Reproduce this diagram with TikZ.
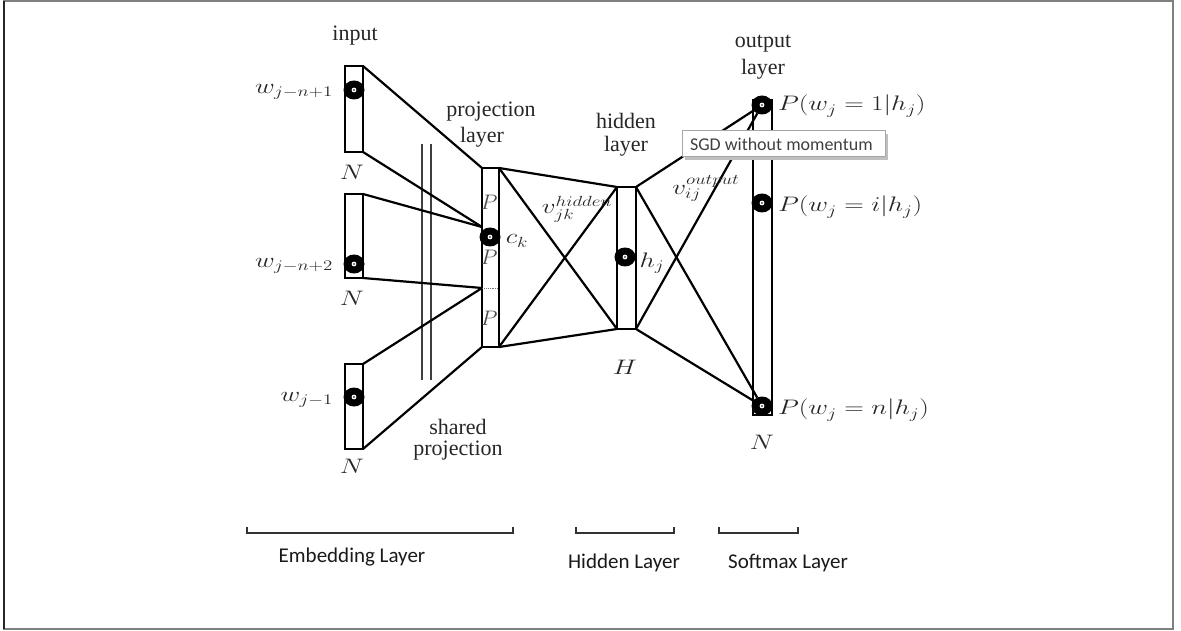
\documentclass[tikz,border=0pt]{standalone}
\usepackage{fix-cm}
\usepackage{fontspec}
\setmainfont{Liberation Serif}
\newfontfamily\calfont{Carlito}
\usetikzlibrary{shapes.geometric}
\newcommand{\mx}[1]{\scalebox{1.29}[1]{$#1$}}
\begin{document}
\begin{tikzpicture}[x=1pt,y=-1pt,
  every node/.style={inner sep=0pt, outer sep=0pt},
  lbl/.style={font=\fontsize{22}{24}\selectfont, text=black!85},
  mlbl/.style={font=\fontsize{21}{23}\selectfont, text=black!85},
  box/.style={draw, line width=2.3pt, rectangle, fill=white},
  conn/.style={line width=2.2pt, line join=round},
  dotn/.style={ellipse, fill=black, minimum width=21pt, minimum height=19pt,
    path picture={\fill[white] (path picture bounding box.center) circle[radius=2.4pt];
                  \fill[black] (path picture bounding box.center) circle[radius=0.8pt];}},
  brk/.style={line width=1.5pt, draw=black!80},
  btm/.style={font=\calfont\fontsize{21}{24}\selectfont, text=black!90},
  tipbox/.style={draw=black!35, fill=white, line width=1pt, minimum width=203pt, minimum height=26pt}
]
\useasboundingbox (0,0) rectangle (1181,631);
% outer frame
\draw[line width=1.5pt, draw=black!50] (4,1) rectangle (1173,629);
\draw[line width=2pt, draw=black!85] (4,1) -- (4,629);

% shared projection double lines
\draw[line width=1.2pt, draw=black!75] (422,144) -- (422,380);
\draw[line width=1.2pt, draw=black!75] (431,144) -- (431,380);

% boxes
\node[box, minimum width=18pt, minimum height=86pt] (in1) at (354,109) {};
\node[box, minimum width=18pt, minimum height=84pt] (in2) at (354,236) {};
\node[box, minimum width=18pt, minimum height=85pt] (in3) at (354,406.5) {};
\node[box, minimum width=17pt, minimum height=179pt] (proj) at (490.5,257.5) {};
\node[box, minimum width=19pt, minimum height=142pt] (hid) at (626.5,258) {};
\node[box, minimum width=19pt, minimum height=315pt] (outb) at (762.5,257.5) {};

% P labels inside projection box
\node[mlbl, text=black!70] (p1) at (489,202) {\scalebox{1.05}[1]{$P$}};
\node[mlbl, text=black!70] (p2) at (489,257) {\scalebox{1.05}[1]{$P$}};
\node[mlbl, text=black!70] (p3) at (489,318) {\scalebox{1.05}[1]{$P$}};

% junctions
\coordinate (jA) at (482,227);
\coordinate (jB) at (482,288);
\coordinate (jBr) at (498,288);
\draw[densely dotted, line width=0.9pt, draw=black!55] (jB) -- (jBr);

% dots
\node[dotn] (d1) at (354,90) {};
\node[dotn] (d2) at (354,264) {};
\node[dotn] (d3) at (354,397) {};
\node[dotn] (ck) at (490,237) {};
\node[dotn] (hj) at (625,257) {};
\node[dotn] (o1) at (762,105) {};
\node[dotn] (oi) at (762,203) {};
\node[dotn] (on) at (762,406) {};

% connectors: input -> projection
\draw[conn] (in1.north east) -- (proj.north west);
\draw[conn] (in1.south east) -- (jA);
\draw[conn] (in2.north east) -- (jA);
\draw[conn] (in2.south east) -- (jB);
\draw[conn] (in3.north east) -- (jB);
\draw[conn] (in3.south east) -- (proj.south west);
% projection -> hidden
\draw[conn] (proj.north east) -- (hid.north west);
\draw[conn] (proj.south east) -- (hid.south west);
\draw[conn] (proj.north east) -- (hid.south west);
\draw[conn] (proj.south east) -- (hid.north west);
% hidden -> output
\draw[conn] (hid.north east) -- (o1);
\draw[conn] (hid.south east) -- (o1);
\draw[conn] (hid.north east) -- (on);
\draw[conn] (hid.south east) -- (on);

% labels
\node[lbl] (tin) at (355,36) {input};
\node[mlbl, anchor=east] (lw1) at (333,92) {\mx{w_{j-n+1}}};
\node[mlbl] (n1) at (352,172) {\mx{N}};
\node[mlbl, anchor=east] (lw2) at (333,266) {\mx{w_{j-n+2}}};
\node[mlbl] (n2) at (352,298) {\mx{N}};
\node[mlbl, anchor=east] (lw3) at (333,400) {\mx{w_{j-1}}};
\node[mlbl] (n3) at (352,466) {\mx{N}};
\node[lbl] (tproj1) at (491,112) {projection};
\node[lbl] (tproj2) at (482,137) {layer};
\node[mlbl] (ckl) at (517,241) {\mx{c_k}};
\node[lbl] (thid1) at (626,121) {hidden};
\node[lbl] (thid2) at (626,146) {layer};
\node[mlbl] (vh) at (577,209) {\mx{v_{jk}^{hidden}}};
\node[mlbl] (hjl) at (652,263) {\mx{h_j}};
\node[mlbl] (Hl) at (625,367) {\mx{H}};
\node[mlbl] (vo) at (706,188) {\mx{v_{ij}^{output}}};
\node[lbl] (tout1) at (763,44) {output};
\node[lbl] (tout2) at (763,69) {layer};
\node[mlbl, anchor=west] (po1) at (778,106) {\mx{P(w_j = 1|h_j)}};
\node[mlbl, anchor=west] (poi) at (778,207) {\mx{P(w_j = i|h_j)}};
\node[mlbl, anchor=west] (pon) at (778,410) {\mx{P(w_j = n|h_j)}};
\node[mlbl] (n4) at (762,442) {\mx{N}};
\node[lbl] (tsh1) at (458,427) {shared};
\node[lbl] (tsh2) at (458,451) {projection};

% tooltip
\fill[black!25] (685,134) rectangle (888,160);
\node[tipbox] (tip) at (783.5,144) {};
\node[anchor=west, font=\calfont\fontsize{18}{20}\selectfont, text=black!75] (tiptext) at ([xshift=8pt]tip.west) {SGD without momentum};

% bottom brackets
\draw[brk] (247,527) -- (247,533) -- (513,533) -- (513,527);
\draw[brk] (576,527) -- (576,533) -- (674,533) -- (674,527);
\draw[brk] (719,527) -- (719,533) -- (798,533) -- (798,527);
\node[btm] (eL) at (352,557) {Embedding Layer};
\node[btm] (hL) at (624,563) {Hidden Layer};
\node[btm] (sL) at (788,563) {Softmax Layer};
\end{tikzpicture}
\end{document}
